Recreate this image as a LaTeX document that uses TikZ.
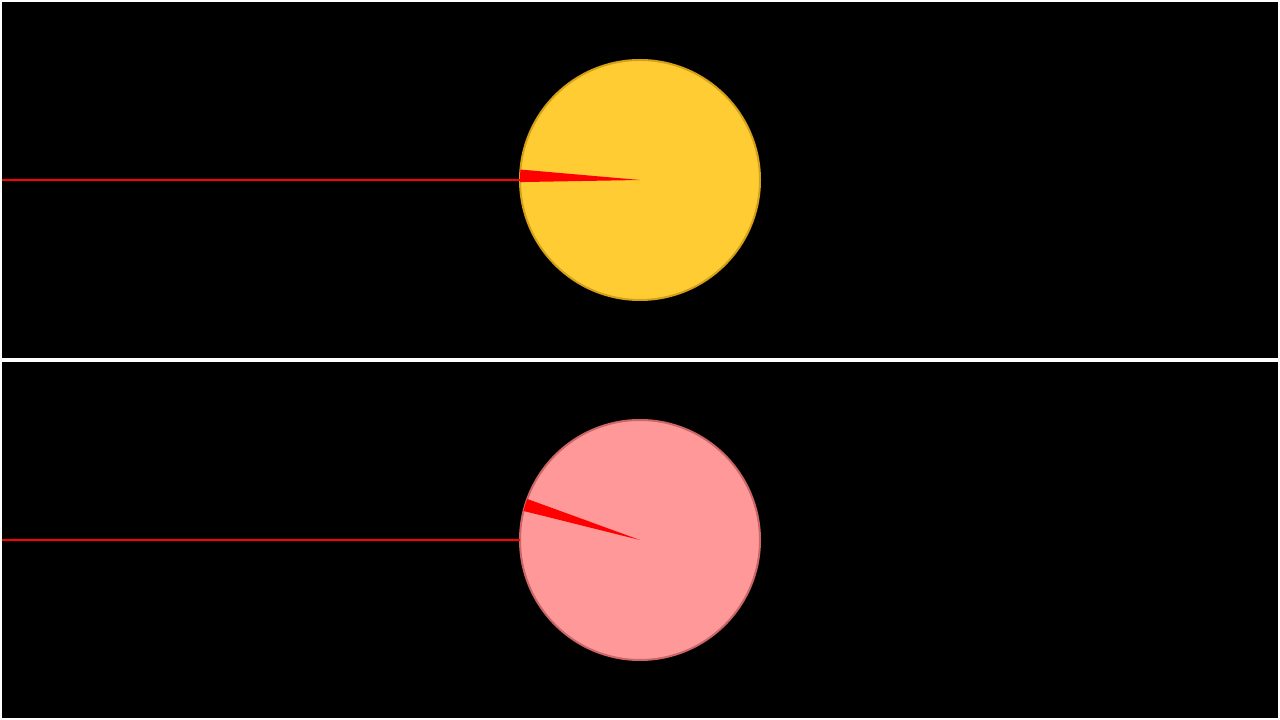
\documentclass[tikz,border=0pt]{standalone}
\usepackage{tikz}
\definecolor{sunfill}{HTML}{FFCC33}
\definecolor{sunedge}{HTML}{D4A017}
\definecolor{pinkfill}{HTML}{FF9999}
\definecolor{pinkedge}{HTML}{CC6666}
\definecolor{rayred}{HTML}{FF0000}
\tikzset{
  panel/.style={fill=black, draw=none},
  disc/.style={circle, minimum size=240pt, inner sep=0pt, outer sep=0pt, line width=2pt},
  ray/.style={draw=rayred, line width=2pt},
  wedge/.style={fill=rayred, draw=none}
}
\begin{document}
\begin{tikzpicture}[x=1pt,y=1pt]
\fill[white] (0,0) rectangle (1280,720);
\useasboundingbox (0,0) rectangle (1280,720);
\fill[panel] (2,362) rectangle (1278,718);
\fill[panel] (2,2) rectangle (1278,358);
% top panel
\node[disc, fill=sunfill, draw=sunedge] (sun) at (640,540) {};
\coordinate (lt) at (2,540);
\draw[ray] (lt) -- (sun.west);
\fill[wedge] (sun.center) -- ++(175:120) arc[start angle=175, end angle=181, radius=120] -- cycle;
% bottom panel
\node[disc, fill=pinkfill, draw=pinkedge] (pink) at (640,180) {};
\coordinate (lb) at (2,180);
\draw[ray] (lb) -- (pink.west);
\fill[wedge] (pink.center) -- ++(160:120) arc[start angle=160, end angle=166, radius=120] -- cycle;
\end{tikzpicture}
\end{document}
